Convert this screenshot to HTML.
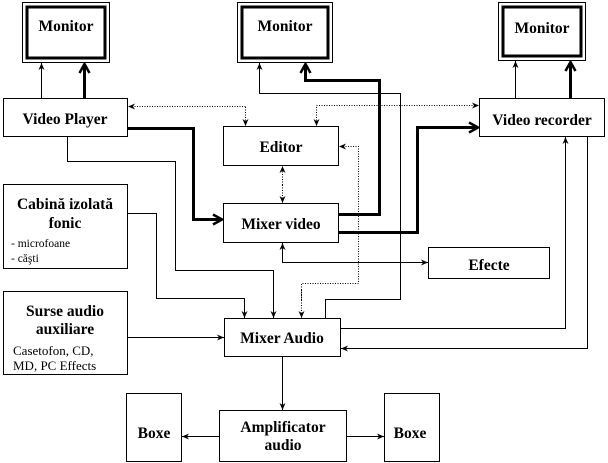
<!DOCTYPE html>
<html><head><meta charset="utf-8"><style>
html,body{margin:0;padding:0;background:#fff}
svg{display:block}
text{font-family:"Liberation Serif",serif;font-weight:bold;font-size:15.5px;fill:#000}
.s{font-weight:normal;font-size:11.5px}
.m{font-weight:normal;font-size:13px}
</style></head><body>
<svg width="608" height="463" viewBox="0 0 608 463" xmlns="http://www.w3.org/2000/svg">
<defs>
<marker id="a" markerWidth="8" markerHeight="8" refX="7" refY="4" orient="auto" markerUnits="userSpaceOnUse"><path d="M0,1 L7,4 L0,7 L2,4 Z" fill="#000"/></marker>
<marker id="t" markerWidth="12" markerHeight="12" refX="10" refY="6" orient="auto" markerUnits="userSpaceOnUse"><path d="M1,1 L10,6 L1,11" fill="none" stroke="#000" stroke-width="2.5"/></marker>
</defs>
<g fill="none" stroke="#000" stroke-width="1">
<rect x="22.5" y="2.5" width="87" height="60"/><rect x="27" y="7" width="78" height="51" stroke-width="3"/>
<rect x="237.5" y="2.5" width="95" height="60"/><rect x="242" y="7" width="86" height="51" stroke-width="3"/>
<rect x="498.5" y="2.5" width="87" height="58"/><rect x="503" y="7" width="78" height="49" stroke-width="3"/>
<rect x="3.5" y="98.5" width="124" height="38"/>
<rect x="223.5" y="126.5" width="115" height="39"/>
<rect x="479.5" y="98.5" width="125" height="38"/>
<rect x="223.5" y="203.5" width="115" height="39"/>
<rect x="3.5" y="184.5" width="124" height="84"/>
<rect x="428.5" y="247.5" width="121" height="31"/>
<rect x="3.5" y="291.5" width="124" height="83"/>
<rect x="224.5" y="318.5" width="116" height="38"/>
<rect x="126.5" y="393.5" width="55" height="68"/>
<rect x="219.5" y="410.5" width="127" height="51"/>
<rect x="384.5" y="393.5" width="55" height="68"/>
<path d="M41.5,98 V63" marker-end="url(#a)"/>
<path d="M515.5,98 V61" marker-end="url(#a)"/>
<path d="M325.5,318 V299.5 H400.5 V93.5 H259.5 V63" marker-end="url(#a)"/>
<path d="M67.5,137 V161.5 H175.5 V270.5 H273.5 V318" marker-end="url(#a)"/>
<path d="M127,213.5 H156.5 V298.5 H244.5 V318" marker-end="url(#a)"/>
<path d="M282.5,250 V262.5 H428" marker-end="url(#a)"/>
<path d="M282.5,262 V243" marker-end="url(#a)"/>
<path d="M127,337.5 H224" marker-end="url(#a)"/>
<path d="M340,328.5 H565.5 V137" marker-end="url(#a)"/>
<path d="M587.5,137 V348.5 H341" marker-end="url(#a)"/>
<path d="M282.5,357 V410" marker-end="url(#a)"/>
<path d="M219,436.5 H182" marker-end="url(#a)"/>
<path d="M347,436.5 H384" marker-end="url(#a)"/>
<g stroke-dasharray="1,1.5">
<path d="M245.5,107 V126" marker-end="url(#a)"/>
<path d="M245.5,106.5 H128" marker-end="url(#a)"/>
<path d="M316.5,107 V126" marker-end="url(#a)"/>
<path d="M316.5,105.5 H479" marker-end="url(#a)"/>
<path d="M301.5,300 V283.5 H358.5 V146.5 H339" marker-end="url(#a)"/>
<path d="M301.5,290 V318" marker-end="url(#a)"/>
<path d="M282.5,185 V166" marker-end="url(#a)"/>
<path d="M282.5,185 V203" marker-end="url(#a)"/>
</g>
<g stroke-width="3">
<path d="M84.5,98 V64" marker-end="url(#t)"/>
<path d="M570.5,98 V62" marker-end="url(#t)"/>
<path d="M338,214.5 H379.5 V80.5 H305.5 V64" marker-end="url(#t)"/>
<path d="M338,232.5 H417.5 V127.5 H478" marker-end="url(#t)"/>
<path d="M127,128.5 H193.5 V219.5 H222" marker-end="url(#t)"/>
</g>
</g>
<g text-anchor="middle">
<text x="66" y="31">Monitor</text>
<text x="285" y="31">Monitor</text>
<text x="542" y="33">Monitor</text>
<text x="65" y="124">Video Player</text>
<text x="281" y="152">Editor</text>
<text x="542" y="125">Video recorder</text>
<text x="281" y="229">Mixer video</text>
<text x="65" y="209">Cabină izolată</text>
<text x="65" y="228">fonic</text>
<text x="489" y="270">Efecte</text>
<text x="65" y="316">Surse audio</text>
<text x="65" y="334">auxiliare</text>
<text x="282" y="343">Mixer Audio</text>
<text x="154" y="438">Boxe</text>
<text x="283" y="432">Amplificator</text>
<text x="283" y="450">audio</text>
<text x="410" y="438">Boxe</text>
</g>
<text class="s" x="11" y="247">- microfoane</text>
<text class="s" x="11" y="262">- căşti</text>
<text class="m" x="13" y="355">Casetofon, CD,</text>
<text class="m" x="13" y="370">MD, PC Effects</text>
</svg>
</body></html>
